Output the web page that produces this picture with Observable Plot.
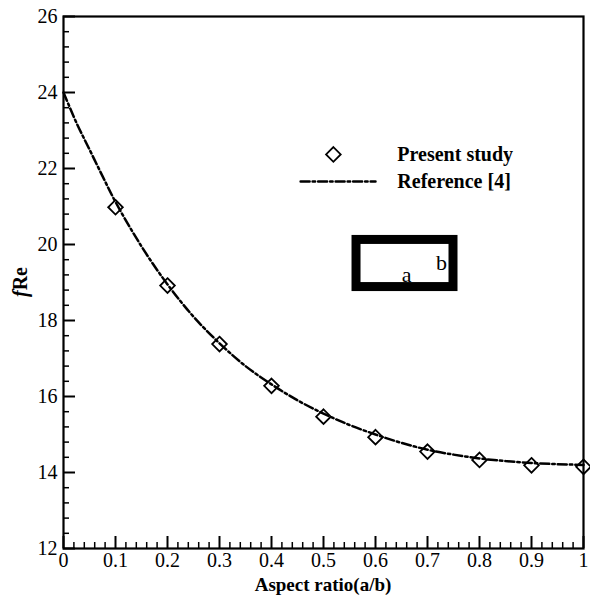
<!DOCTYPE html>
<html>
<head>
<meta charset="utf-8">
<script src="https://cdn.jsdelivr.net/npm/d3@7"></script>
<script src="https://cdn.jsdelivr.net/npm/@observablehq/plot@0.6"></script>
<style>
  html, body { margin: 0; padding: 0; background: #fff; }
  #chart { width: 590px; height: 599px; }
  #chart svg text { font-family: 'Liberation Serif', 'Times New Roman', serif; }
</style>
</head>
<body>
<div id="chart"></div>
<script>
// Present study (markers)
const studyX = [0.1, 0.2, 0.3, 0.4, 0.5, 0.6, 0.7, 0.8, 0.9, 1.0];
const studyY = [20.98, 18.92, 17.38, 16.28, 15.47, 14.93, 14.55, 14.33, 14.19, 14.15];

// Reference [4] (dash-dot curve)
const refX = [0, 0.025, 0.05, 0.075, 0.1, 0.15, 0.2, 0.25, 0.3, 0.35, 0.4, 0.45, 0.5, 0.55, 0.6, 0.65, 0.7, 0.75, 0.8, 0.85, 0.9, 0.95, 1.0];
const refY = [24.0, 23.2, 22.5, 21.8, 21.12, 19.95, 18.95, 18.1, 17.4, 16.8, 16.32, 15.9, 15.55, 15.25, 15.0, 14.78, 14.6, 14.47, 14.37, 14.3, 14.25, 14.22, 14.2];

// Axis ticks
const xMajor = [0, 0.1, 0.2, 0.3, 0.4, 0.5, 0.6, 0.7, 0.8, 0.9, 1];
const xTickLabels = ["0", "0.1", "0.2", "0.3", "0.4", "0.5", "0.6", "0.7", "0.8", "0.9", "1"];
const xMinor = d3.range(0, 50).map(i => i / 50).filter((v, i) => i % 5 !== 0);
const yMajor = [12, 14, 16, 18, 20, 22, 24, 26];
const yTickLabels = ["12", "14", "16", "18", "20", "22", "24", "26"];
const yMinor = d3.range(0, 35).map(i => 12 + i * 0.4).filter((v, i) => i % 5 !== 0);

const legendLabels = ["Present study", "Reference [4]"];

const study = studyX.map((x, i) => ({x, y: studyY[i]}));
const ref = refX.map((x, i) => ({x, y: refY[i]}));

const serif = "'Liberation Serif', 'Times New Roman', serif";
const dash = "9,3,2.5,3";

const plot = Plot.plot({
  width: 590,
  height: 599,
  marginLeft: 63,
  marginRight: 7,
  marginTop: 16,
  marginBottom: 51,
  style: {fontFamily: serif, fontSize: "20px", color: "#000", background: "#fff"},
  x: {domain: [0, 1]},
  y: {domain: [12, 26]},
  marks: [
    // minor ticks (inward)
    Plot.axisX(xMinor, {anchor: "bottom", tickSize: -6, text: null, strokeWidth: 1.5, label: null}),
    Plot.axisY(yMinor, {anchor: "left", tickSize: -6, text: null, strokeWidth: 1.5, label: null}),
    // major ticks with labels
    Plot.axisX(xMajor, {anchor: "bottom", tickSize: -12, strokeWidth: 2, tickPadding: 16,
      tickFormat: (d, i) => xTickLabels[i], fontSize: 20, fontFamily: serif, label: null}),
    Plot.axisY(yMajor, {anchor: "left", tickSize: -12, strokeWidth: 2, tickPadding: 18,
      tickFormat: (d, i) => yTickLabels[i], fontSize: 20, fontFamily: serif, label: null}),
    Plot.frame({stroke: "#000", strokeWidth: 2.2}),
    // reference curve
    Plot.line(ref, {x: "x", y: "y", curve: "catmull-rom", stroke: "#000", strokeWidth: 2.5, strokeDasharray: dash}),
    // present study markers
    Plot.dot(study, {x: "x", y: "y", symbol: "diamond2", r: 6.6, stroke: "#000", strokeWidth: 1.8, fill: "none"}),
    // legend
    Plot.dot([0], {x: [0.519], y: [22.37], symbol: "diamond2", r: 6.6, stroke: "#000", strokeWidth: 1.8, fill: "none"}),
    Plot.line([0, 1], {x: [0.456, 0.600], y: [21.66, 21.66], stroke: "#000", strokeWidth: 2.5, strokeDasharray: dash}),
    Plot.text(legendLabels, {x: [0.642, 0.642], y: [22.37, 21.66], text: d => d, textAnchor: "start",
      fontWeight: "bold", fontSize: 20, fontFamily: serif, fill: "#000"}),
    // inset rectangle (duct cross-section)
    Plot.rect([0], {x1: [0.5635], x2: [0.75], y1: [18.88], y2: [20.12], stroke: "#000", strokeWidth: 9, fill: "none"}),
    Plot.text(["a", "b"], {x: [0.66, 0.727], y: [19.2, 19.52], text: d => d, fontSize: 22, fontFamily: serif, fill: "#000"})
  ]
});

const svg = d3.select(plot);
// x axis title
svg.append("text")
  .attr("x", 63 + 520 / 2)
  .attr("y", 591)
  .attr("text-anchor", "middle")
  .attr("font-family", serif)
  .attr("font-size", 19)
  .attr("font-weight", "bold")
  .attr("fill", "#000")
  .text("Aspect ratio(a/b)");
// y axis title: italic f + bold Re
const yt = svg.append("text")
  .attr("transform", "translate(27,282) rotate(-90)")
  .attr("text-anchor", "middle")
  .attr("font-family", serif)
  .attr("font-size", 20)
  .attr("fill", "#000");
yt.append("tspan").attr("font-style", "italic").attr("font-weight", "bold").text("f");
yt.append("tspan").attr("font-weight", "bold").text("Re");

document.getElementById("chart").appendChild(plot);
</script>
</body>
</html>
